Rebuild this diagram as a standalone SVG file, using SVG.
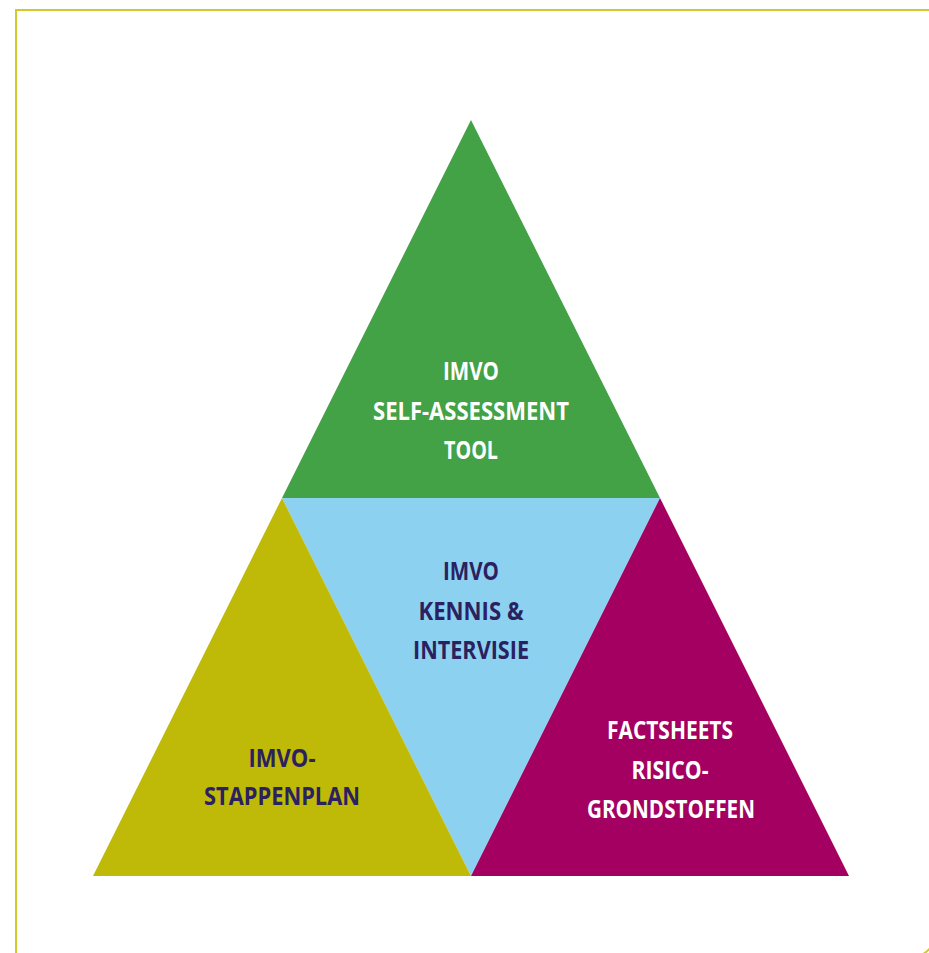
<svg xmlns="http://www.w3.org/2000/svg" width="929" height="953" viewBox="0 0 929 953">
  <style>
    .frame { fill: none; stroke: #d3c92c; stroke-width: 2; }
    .lbl { font-family: "Open Sans", "Noto Sans", "DejaVu Sans", sans-serif; font-weight: 700; font-size: 25px; text-anchor: middle; }
    .light { fill: #ffffff; }
    .dark { fill: #2b2160; }
  </style>
  <rect width="929" height="953" fill="#ffffff"/>
  <!-- page frame: square top-left corner, rounded bottom-right corner running off the page -->
  <path class="frame" d="M16,957 V10 H934 V936 A20,20 0 0 1 914,956 Z"/>

  <g id="self-assessment">
    <polygon points="471,120 660,498 282,498" fill="#43a146"/>
    <text class="lbl light" x="471" y="380" textLength="56" lengthAdjust="spacingAndGlyphs">IMVO</text>
    <text class="lbl light" x="471" y="420" textLength="196" lengthAdjust="spacingAndGlyphs">SELF-ASSESSMENT</text>
    <text class="lbl light" x="471" y="459" textLength="54" lengthAdjust="spacingAndGlyphs">TOOL</text>
  </g>

  <g id="kennis-intervisie">
    <polygon points="282,498 660,498 471,876" fill="#8cd1ef"/>
    <text class="lbl dark" x="471" y="580" textLength="56" lengthAdjust="spacingAndGlyphs">IMVO</text>
    <text class="lbl dark" x="471" y="620" textLength="105" lengthAdjust="spacingAndGlyphs">KENNIS &amp;</text>
    <text class="lbl dark" x="471" y="659" textLength="116" lengthAdjust="spacingAndGlyphs">INTERVISIE</text>
  </g>

  <g id="stappenplan">
    <polygon points="282,498 471,876 93,876" fill="#bfb907"/>
    <text class="lbl dark" x="282" y="767" textLength="67" lengthAdjust="spacingAndGlyphs">IMVO-</text>
    <text class="lbl dark" x="282" y="805" textLength="156" lengthAdjust="spacingAndGlyphs">STAPPENPLAN</text>
  </g>

  <g id="factsheets">
    <polygon points="660,498 849,876 471,876" fill="#a30062"/>
    <text class="lbl light" x="670" y="739" textLength="126" lengthAdjust="spacingAndGlyphs">FACTSHEETS</text>
    <text class="lbl light" x="670" y="779" textLength="77" lengthAdjust="spacingAndGlyphs">RISICO-</text>
    <text class="lbl light" x="671" y="818" textLength="168" lengthAdjust="spacingAndGlyphs">GRONDSTOFFEN</text>
  </g>

  <g id="connectors"></g>
</svg>
